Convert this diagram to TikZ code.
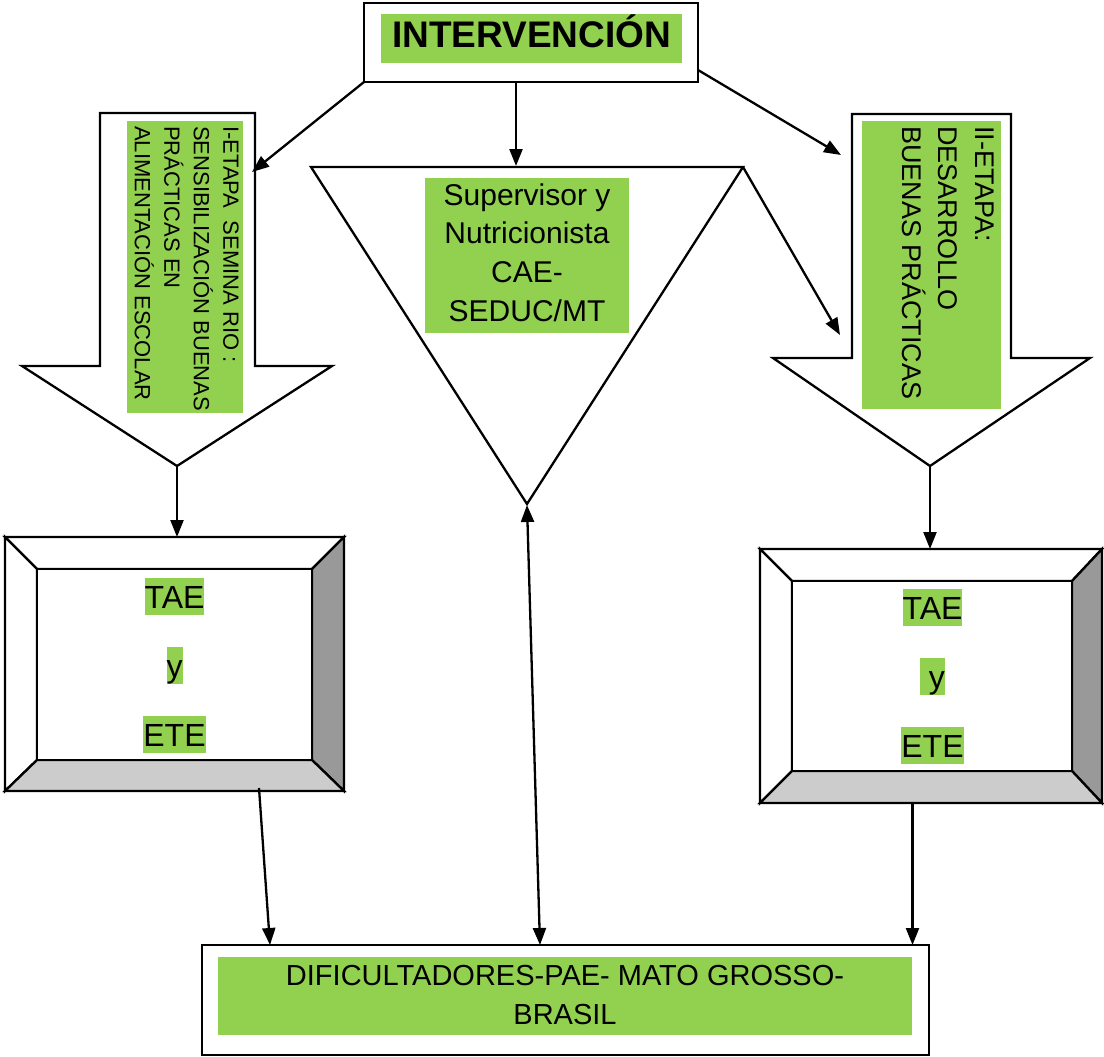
\documentclass[tikz,border=0pt]{standalone}
\usepackage{fontspec}
\setmainfont{Liberation Sans}
\usetikzlibrary{arrows.meta}
\definecolor{hlgreen}{RGB}{146,208,80}
\definecolor{bevdark}{RGB}{153,153,153}
\definecolor{bevlight}{RGB}{204,204,204}
\begin{document}
\begin{tikzpicture}[x=1pt,y=-1pt, line width=2.3pt,
  arr/.style={-{Triangle[length=17pt,width=13pt]}, line width=2.3pt},
  darr/.style={{Triangle[length=17pt,width=13pt]}-{Triangle[length=17pt,width=13pt]}, line width=2.3pt},
  frame/.style={draw, line width=2.3pt, fill=white, inner sep=0pt, outer sep=0pt},
  plainbox/.style={inner sep=0pt, outer sep=0pt},
  greenbox/.style={fill=hlgreen, inner sep=0pt, outer sep=0pt},
  hl/.style={fill=hlgreen, inner xsep=0pt, inner ysep=0pt, outer sep=0pt, text height=30pt, text depth=7pt, anchor=base, font=\fontsize{32}{37}\selectfont},
  blockshape/.style={draw, line width=2.3pt, fill=white},
  vtext/.style={rotate=-90, anchor=north west, align=left, inner sep=0pt}
]
\useasboundingbox (0,0) rectangle (1104,1057);

% ---------- INTERVENCION ----------
\node[frame, minimum width=334pt, minimum height=79pt] (int) at (531,42.5) {};
\node[greenbox, minimum width=301pt, text height=34pt, text depth=15pt,
      font=\fontsize{37}{44}\bfseries\selectfont, anchor=base] (intg) at (531.5,48) {INTERVENCIÓN};

% ---------- left block arrow ----------
\draw[blockshape] (100,113) -- (255,113) -- (255,366) -- (332,366) -- (177,466) -- (22,366) -- (100,366) -- cycle;
\coordinate (ltip) at (177,466);
\coordinate (lshaft) at (252,172);
\node[greenbox, minimum width=116pt, minimum height=292pt] (lg) at (185,267) {};
\node[vtext, font=\fontsize{22}{29.5}\selectfont] (ltext) at (240,125)
  {I-ETAPA\ \ SEMINA RIO :\\SENSIBILIZACIÓN BUENAS\\PRÁCTICAS EN\\ALIMENTACIÓN ESCOLAR};

% ---------- right block arrow ----------
\draw[blockshape] (852,114) -- (1011,114) -- (1011,358) -- (1090,358) -- (930,466) -- (773,358) -- (852,358) -- cycle;
\coordinate (rtip) at (930,466);
\coordinate (rshaft) at (841,155);
\coordinate (rhead) at (840,335);
\node[greenbox, minimum width=139pt, minimum height=288pt] (rg) at (931.5,265) {};
\node[vtext, font=\fontsize{27}{36.5}\selectfont] (rtext) at (995,125)
  {II-ETAPA:\\DESARROLLO\\BUENAS PRÁCTICAS};

% ---------- triangle ----------
\coordinate (tritl) at (311,167);
\coordinate (tritr) at (743,167);
\coordinate (tritip) at (527,504);
\draw[blockshape] (tritl) -- (tritr) -- (tritip) -- cycle;
\node[greenbox, minimum width=204pt, minimum height=155pt, align=center,
      font=\fontsize{30}{38.7}\selectfont] (trig) at (527,255.5)
  {Supervisor y\\Nutricionista\\CAE-\\SEDUC/MT\rule[-6.5pt]{0pt}{6.5pt}};

% ---------- left bevel box ----------
\node[frame, minimum width=339pt, minimum height=254pt] (lbox) at (174.5,664) {};
\path node[plainbox, minimum width=275pt, minimum height=191pt] (lin) at (174.5,664.5) {};
\draw[fill=white] (lbox.north west) -- (lbox.north east) -- (lin.north east) -- (lin.north west) -- cycle;
\draw[fill=white] (lbox.north west) -- (lin.north west) -- (lin.south west) -- (lbox.south west) -- cycle;
\draw[fill=bevdark] (lbox.north east) -- (lbox.south east) -- (lin.south east) -- (lin.north east) -- cycle;
\draw[fill=bevlight] (lbox.south west) -- (lin.south west) -- (lin.south east) -- (lbox.south east) -- cycle;
\draw[fill=white] (lin.north west) rectangle (lin.south east);
\draw (lbox.north west) rectangle (lbox.south east);
\node[hl] (ltae) at (174.5,608) {TAE};
\node[hl] (ly) at (174.5,677) {y};
\node[hl] (lete) at (174.5,746) {ETE};

% ---------- right bevel box ----------
\node[frame, minimum width=342pt, minimum height=254pt] (rbox) at (931,676) {};
\path node[plainbox, minimum width=280pt, minimum height=190pt] (rin) at (932,676) {};
\draw[fill=white] (rbox.north west) -- (rbox.north east) -- (rin.north east) -- (rin.north west) -- cycle;
\draw[fill=white] (rbox.north west) -- (rin.north west) -- (rin.south west) -- (rbox.south west) -- cycle;
\draw[fill=bevdark] (rbox.north east) -- (rbox.south east) -- (rin.south east) -- (rin.north east) -- cycle;
\draw[fill=bevlight] (rbox.south west) -- (rin.south west) -- (rin.south east) -- (rbox.south east) -- cycle;
\draw[fill=white] (rin.north west) rectangle (rin.south east);
\draw (rbox.north west) rectangle (rbox.south east);
\node[hl] (rtae) at (932.5,619) {TAE};
\node[hl] (ry) at (932.5,688) {\ y};
\node[hl] (rete) at (932.5,757) {ETE};

% ---------- bottom box ----------
\node[frame, minimum width=727pt, minimum height=110pt] (bot) at (565.5,1000) {};
\node[greenbox, minimum width=694pt, minimum height=78pt, align=center,
      font=\fontsize{29}{39}\selectfont] (botg) at (565,996)
  {DIFICULTADORES-PAE- MATO GROSSO-\\BRASIL\rule[-2pt]{0pt}{2pt}};

% ---------- connectors ----------
\draw[arr] (int.south west) -- (lshaft);
\draw[arr] ([xshift=-15pt]int.south) -- (516,166);
\draw[arr] ([yshift=12pt]int.south east) -- (rshaft);
\draw[arr] (tritr) -- (rhead);
\draw[arr] (ltip) -- (ltip |- lbox.north);
\draw[arr] (rtip) -- (rtip |- rbox.north);
\draw[arr] ([xshift=84.5pt,yshift=3pt]lbox.south) -- ([xshift=-295.5pt]bot.north);
\draw[darr] ([xshift=-25.5pt]bot.north) -- ([yshift=-1pt]tritip);
\draw[arr] ([xshift=-18.5pt]rbox.south) -- ([xshift=-18.5pt]rbox.south |- bot.north);
\end{tikzpicture}
\end{document}
